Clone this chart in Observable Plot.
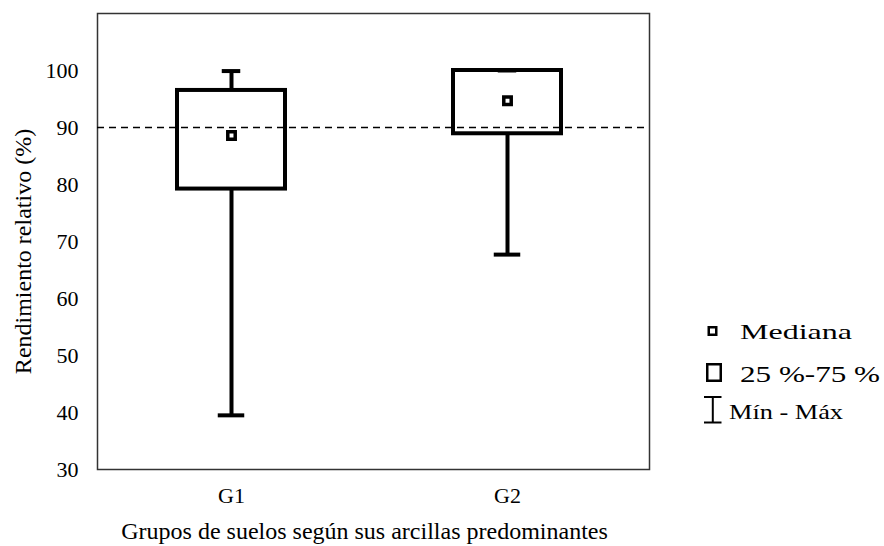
<!DOCTYPE html>
<html>
<head>
<meta charset="utf-8">
<script src="https://cdn.jsdelivr.net/npm/d3@7"></script>
<script src="https://cdn.jsdelivr.net/npm/@observablehq/plot@0.6"></script>
<style>
  body { margin: 0; background: #fff; font-family: "Liberation Serif", serif; }
  #wrap { position: relative; width: 884px; height: 546px; }
  #legend { position: absolute; left: 0; top: 0; pointer-events: none; }
</style>
</head>
<body>
<div id="wrap"></div>
<script>
const groups = ["G1", "G2"];
const mins = [39.5, 67.7];
const q1s = [79.2, 88.9];
const medians = [88.6, 94.7];
const q3s = [96.5, 100.0];
const maxs = [99.9, 100.0];
const yTicks = [30, 40, 50, 60, 70, 80, 90, 100];
const threshold = 90;
const yLabel = "Rendimiento relativo (%)";
const xLabel = "Grupos de suelos según sus arcillas predominantes";
const legendLabels = ["Mediana", "25 %-75 %", "Mín - Máx"];

const data = groups.map((g, i) => ({
  group: g, min: mins[i], q1: q1s[i], median: medians[i], q3: q3s[i], max: maxs[i]
}));

const font = "Liberation Serif";

function draw() {
  const wrap = document.getElementById("wrap");
  wrap.innerHTML = "";
  const chart = Plot.plot({
    width: 884,
    height: 546,
    marginLeft: 97,
    marginRight: 235,
    marginTop: 13,
    marginBottom: 77,
    style: { fontFamily: font, fontSize: "22px", background: "#fff", color: "#000" },
    x: { type: "band", domain: groups, paddingInner: 0.6076, paddingOuter: 0.302, align: 0.479 },
    y: { domain: [30, 110] },
    marks: [
      Plot.frame({ stroke: "#333", strokeWidth: 1.5 }),
      Plot.ruleY([threshold], { stroke: "#000", strokeWidth: 1.3, strokeDasharray: "7,5" }),
      Plot.ruleX(data, { x: "group", y1: "min", y2: "q1", stroke: "#000", strokeWidth: 4 }),
      Plot.ruleX(data, { x: "group", y1: "q3", y2: "max", stroke: "#000", strokeWidth: 4 }),
      Plot.barY(data, { x: "group", y1: "q1", y2: "q3", fill: "none", stroke: "#000", strokeWidth: 4 }),
      Plot.tickY(data, { x: "group", y: "max", stroke: "#000", strokeWidth: 4, insetLeft: 44.75, insetRight: 44.75 }),
      Plot.tickY(data, { x: "group", y: "min", stroke: "#000", strokeWidth: 4, insetLeft: 40.75, insetRight: 40.75 }),
      Plot.dot(data, { x: "group", y: "median", symbol: "square", r: 4.2, fill: "#fff", stroke: "#000", strokeWidth: 3.5 }),
      Plot.axisY({ ticks: yTicks, tickSize: 0, tickPadding: 19, fontSize: 22, fontFamily: font, label: null }),
      Plot.axisX({ tickSize: 0, tickPadding: 18, fontSize: 22, fontFamily: font, label: null }),
      Plot.text([yLabel], { text: d => d, frameAnchor: "left", rotate: -90, dx: -74, dy: 10, fontSize: 24, fontFamily: font, textAnchor: "middle", lineAnchor: "middle" }),
      Plot.text([xLabel], { text: d => d, frameAnchor: "bottom", dx: -9, dy: 62, fontSize: 24, fontFamily: font, lineAnchor: "middle" })
    ]
  });
  wrap.appendChild(chart);

  // Legend (right side) in an overlay SVG
  const lg = d3.select(wrap).append("svg")
    .attr("id", "legend")
    .attr("width", 884).attr("height", 546)
    .attr("font-family", font);

  lg.append("rect").attr("x", 708.75).attr("y", 327.25).attr("width", 7.5).attr("height", 7.5)
    .attr("fill", "#fff").attr("stroke", "#000").attr("stroke-width", 2.5);
  lg.append("rect").attr("x", 707.25).attr("y", 364.25).attr("width", 13.5).attr("height", 16.5)
    .attr("fill", "#fff").attr("stroke", "#000").attr("stroke-width", 2.5);
  lg.append("line").attr("x1", 712.8).attr("x2", 712.8).attr("y1", 397).attr("y2", 422.5)
    .attr("stroke", "#000").attr("stroke-width", 2);
  lg.append("line").attr("x1", 704).attr("x2", 721.5).attr("y1", 397).attr("y2", 397)
    .attr("stroke", "#000").attr("stroke-width", 2);
  lg.append("line").attr("x1", 704).attr("x2", 721.5).attr("y1", 422.5).attr("y2", 422.5)
    .attr("stroke", "#000").attr("stroke-width", 2);

  const legendPos = [
    { x: 740, y: 339, len: 112, size: 22 },
    { x: 740, y: 382, len: 140, size: 24 },
    { x: 729, y: 419, len: 114, size: 22 }
  ];
  legendLabels.forEach((t, i) => {
    const p = legendPos[i];
    lg.append("text").attr("x", p.x).attr("y", p.y)
      .attr("text-anchor", "start")
      .attr("font-family", font)
      .attr("font-size", p.size).attr("fill", "#000")
      .attr("textLength", p.len).attr("lengthAdjust", "spacingAndGlyphs")
      .text(t);
  });
}

draw();
if (document.fonts && document.fonts.load) {
  Promise.all([
    document.fonts.load("22px 'Liberation Serif'", "Grupos según Mín Máx 0123456789%"),
    document.fonts.load("24px 'Liberation Serif'", "Rendimiento relativo (%)")
  ]).then(draw).catch(() => {});
}
</script>
</body>
</html>
